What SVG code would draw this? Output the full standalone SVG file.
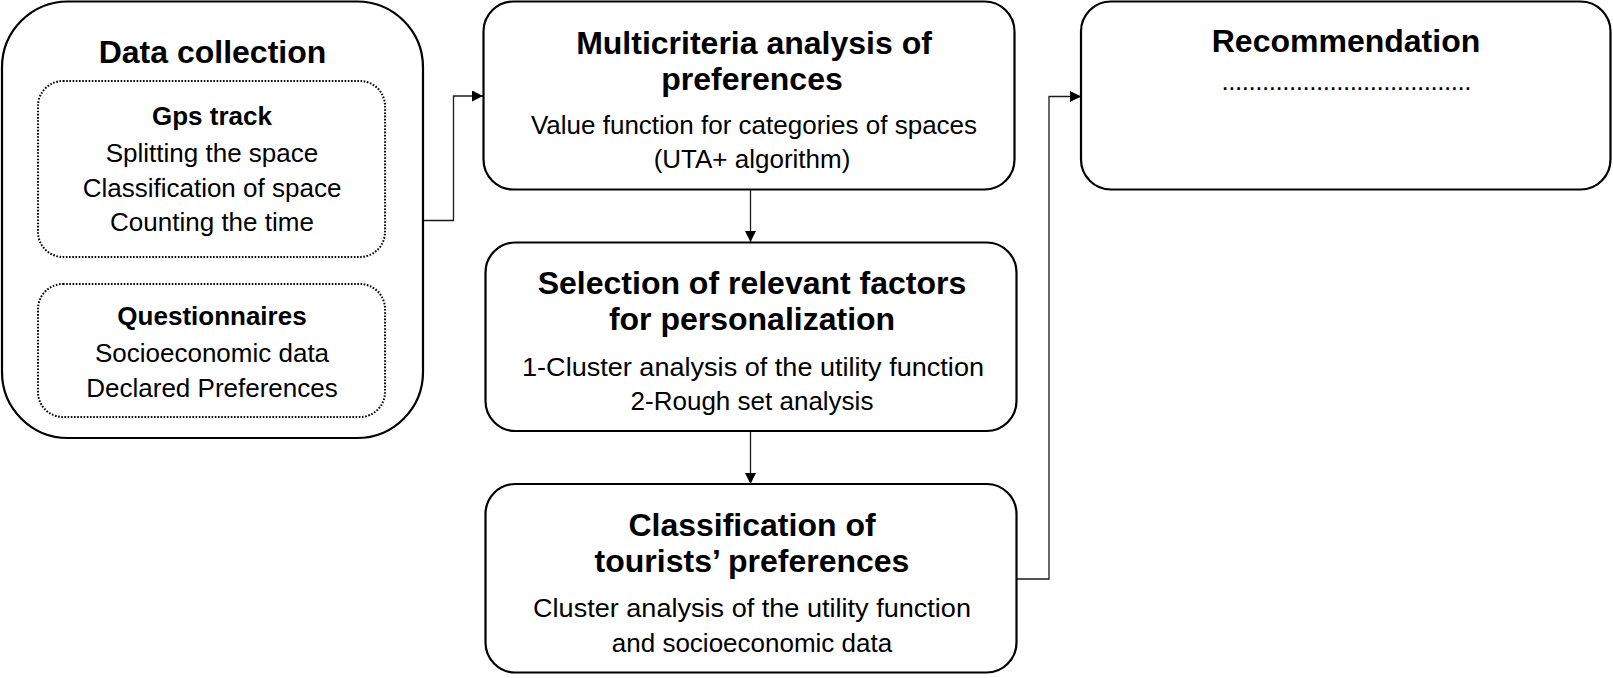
<svg xmlns="http://www.w3.org/2000/svg" width="1613" height="678" viewBox="0 0 1613 678">
<style>
  .box { fill: #fff; stroke: #000; stroke-width: 2.2; }
  .dot { fill: none; stroke: #000; stroke-width: 2; stroke-dasharray: 1.6 1.6; }
  .conn { fill: none; stroke: #1a1a1a; stroke-width: 1.3; }
  .h { font-family: "Liberation Sans", Arial, sans-serif; font-weight: bold; font-size: 32px; text-anchor: middle; fill: #000; }
  .sh { font-family: "Liberation Sans", Arial, sans-serif; font-weight: bold; font-size: 26px; text-anchor: middle; fill: #000; }
  .t { font-family: "Liberation Sans", Arial, sans-serif; font-size: 26px; text-anchor: middle; fill: #000; }
</style>
<defs>
  <marker id="arrow" markerUnits="userSpaceOnUse" markerWidth="12" markerHeight="12" refX="11" refY="5.5" orient="auto">
    <path d="M0,0 L11,5.5 L0,11 z" fill="#000"/>
  </marker>
</defs>
<rect width="1613" height="678" fill="#fff"/>

<g id="connectors">
  <path class="conn" d="M423,220.5 H453.5 V96 H483" marker-end="url(#arrow)"/>
  <path class="conn" d="M750.5,189.5 V242" marker-end="url(#arrow)"/>
  <path class="conn" d="M750.5,431 V484" marker-end="url(#arrow)"/>
  <path class="conn" d="M1016.5,579 H1049 V96.5 H1081" marker-end="url(#arrow)"/>
</g>

<g id="data-collection">
  <rect class="box" x="2" y="1.5" width="421" height="436.5" rx="66" ry="66"/>
  <text class="h" x="212.5" y="63">Data collection</text>
  <g id="gps-track">
    <rect class="dot" x="38" y="81" width="347" height="176" rx="25" ry="25"/>
    <text class="sh" x="212" y="125">Gps track</text>
    <text class="t" x="212" y="162">Splitting the space</text>
    <text class="t" x="212" y="196.5">Classification of space</text>
    <text class="t" x="212" y="231">Counting the time</text>
  </g>
  <g id="questionnaires">
    <rect class="dot" x="38" y="284" width="347" height="133" rx="25" ry="25"/>
    <text class="sh" x="212" y="325">Questionnaires</text>
    <text class="t" x="212" y="362">Socioeconomic data</text>
    <text class="t" x="212" y="397">Declared Preferences</text>
  </g>
</g>

<g id="multicriteria">
  <rect class="box" x="483.5" y="1.5" width="531" height="188" rx="30" ry="30"/>
  <text class="h" x="754" y="54">Multicriteria analysis of</text>
  <text class="h" x="752" y="89.5">preferences</text>
  <text class="t" x="754" y="134">Value function for categories of spaces</text>
  <text class="t" x="752" y="167.5">(UTA+ algorithm)</text>
</g>

<g id="selection">
  <rect class="box" x="485.5" y="242.5" width="531" height="188.5" rx="30" ry="30"/>
  <text class="h" x="752" y="294">Selection of relevant factors</text>
  <text class="h" x="752" y="330">for personalization</text>
  <text class="t" x="753" y="376" textLength="462" lengthAdjust="spacingAndGlyphs">1-Cluster analysis of the utility function</text>
  <text class="t" x="752" y="410">2-Rough set analysis</text>
</g>

<g id="classification">
  <rect class="box" x="485.5" y="484" width="531" height="188.5" rx="30" ry="30"/>
  <text class="h" x="752" y="535.5">Classification of</text>
  <text class="h" x="752" y="571.5">tourists’ preferences</text>
  <text class="t" x="752" y="616.5" textLength="438" lengthAdjust="spacingAndGlyphs">Cluster analysis of the utility function</text>
  <text class="t" x="752" y="651.5">and socioeconomic data</text>
</g>

<g id="recommendation">
  <rect class="box" x="1081" y="1.5" width="529.5" height="188" rx="30" ry="30"/>
  <text class="h" x="1346" y="52">Recommendation</text>
  <text class="t" x="1346.5" y="90" textLength="250" lengthAdjust="spacing">.....................................</text>
</g>
</svg>
